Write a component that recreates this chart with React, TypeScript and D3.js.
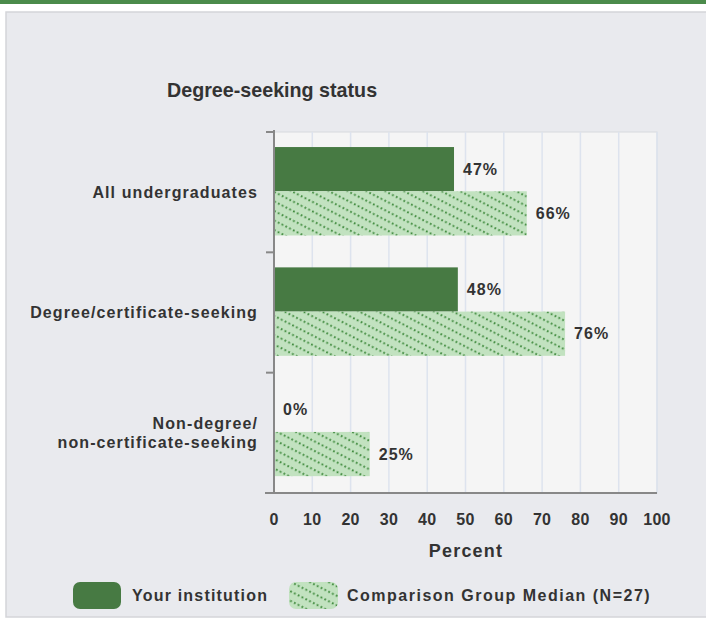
import React from "react";
import * as d3 from "d3";

const categories = ["All undergraduates", "Degree/certificate-seeking", "Non-degree/\nnon-certificate-seeking"];
const yourInstitution = [47, 48, 0];
const comparisonMedian = [66, 76, 25];
const xTicks = [0, 10, 20, 30, 40, 50, 60, 70, 80, 90, 100];
const seriesNames = ["Your institution", "Comparison Group Median (N=27)"];
const chartTitle = "Degree-seeking status";
const axisTitle = "Percent";

const W = 706;
const H = 620;
const FONT = "'Liberation Sans', Arial, sans-serif";
const DARK = "#477a43";
const LIGHT = "#c2e2c0";
const DOT = "#3f8a3d";
const TEXT = "#333";

export default function App() {
  const x = d3.scaleLinear().domain([0, 100]).range([274, 657]);
  const y = d3.scaleBand<string>().domain(categories).range([132, 493]).paddingInner(0);
  const bw = y.bandwidth();
  const sub = d3.scaleBand<number>().domain([0, 1]).range([bw * 0.125, bw * 0.86]).paddingInner(0);
  const series = [yourInstitution, comparisonMedian];
  const lbl = { fontFamily: FONT, fontWeight: "bold" as const, fontSize: 16, fill: TEXT, letterSpacing: 1.1 };

  return (
    <div style={{ position: "fixed", left: 0, top: 0 }}>
      <svg width={W} height={H} style={{ display: "block" }}>
        <defs>
          <pattern id="dots" width="8.5" height="8.5" patternUnits="userSpaceOnUse" patternTransform="rotate(27)">
            <rect width="8.5" height="8.5" fill={LIGHT} />
            <line x1="0" y1="4" x2="8.5" y2="4" stroke={DOT} strokeWidth="1.7" strokeDasharray="1.8 2.45" />
          </pattern>
        </defs>
        <rect x={0} y={0} width={W} height={4} fill="#4b8b4b" />
        <rect x={6} y={12} width={W} height={605} fill="#e9eaee" stroke="#d4d5d9" strokeWidth={1.5} />
        <text x={167} y={97} fontFamily={FONT} fontWeight="bold" fontSize={19.7} fill={TEXT}>
          {chartTitle}
        </text>
        {/* plot background */}
        <rect x={x(0)} y={132} width={x(100) - x(0)} height={361} fill="#f5f5f5" stroke="#d8d9dd" strokeWidth={1} />
        {xTicks.map((t) => (
          <line key={t} x1={x(t)} x2={x(t)} y1={132} y2={493} stroke="#dde3ee" strokeWidth={1.5} />
        ))}
        {/* bars */}
        {categories.map((c, i) =>
          series.map((s, j) =>
            s[i] > 0 ? (
              <rect
                key={c + j}
                x={x(0)}
                y={(y(c) as number) + (sub(j) as number)}
                width={x(s[i]) - x(0)}
                height={sub.bandwidth()}
                fill={j === 0 ? DARK : "url(#dots)"}
              />
            ) : null
          )
        )}
        {categories.map((c, i) =>
          series.map((s, j) => (
            <text
              key={"l" + c + j}
              x={x(s[i]) + 9}
              y={(y(c) as number) + (sub(j) as number) + sub.bandwidth() / 2 + 5.5}
              {...lbl}
              letterSpacing={1}
            >
              {s[i]}%
            </text>
          ))
        )}
        {/* axes */}
        <line x1={x(0)} x2={x(0)} y1={130} y2={494} stroke="#888" strokeWidth={2} />
        <line x1={265} x2={x(100)} y1={493} y2={493} stroke="#888" strokeWidth={2} />
        {[132, ...categories.map((c) => (y(c) as number) + bw)].map((v, i) => (
          <line key={"t" + i} x1={266} x2={x(0)} y1={v} y2={v} stroke="#888" strokeWidth={2} />
        ))}
        {categories.map((c) => {
          const lines = c.split("\n");
          const cy = (y(c) as number) + bw / 2;
          return (
            <text key={"c" + c} textAnchor="end" {...lbl}>
              {lines.map((l, k) => (
                <tspan key={k} x={258} y={cy + 5.5 + (k - (lines.length - 1) / 2) * 19}>
                  {l}
                </tspan>
              ))}
            </text>
          );
        })}
        {xTicks.map((t) => (
          <text key={"x" + t} x={x(t)} y={525} textAnchor="middle" {...lbl} letterSpacing={0.3}>
            {t}
          </text>
        ))}
        <text x={466} y={557} textAnchor="middle" {...lbl} fontSize={18} letterSpacing={1.2}>
          {axisTitle}
        </text>
        {/* legend */}
        <rect x={73} y={582} width={48} height={27} rx={7} fill={DARK} />
        <text x={132} y={601} {...lbl} letterSpacing={1.2}>
          {seriesNames[0]}
        </text>
        <rect x={289} y={582} width={49} height={27} rx={7} fill="url(#dots)" />
        <text x={347} y={601} {...lbl} letterSpacing={1.5}>
          {seriesNames[1]}
        </text>
      </svg>
    </div>
  );
}
